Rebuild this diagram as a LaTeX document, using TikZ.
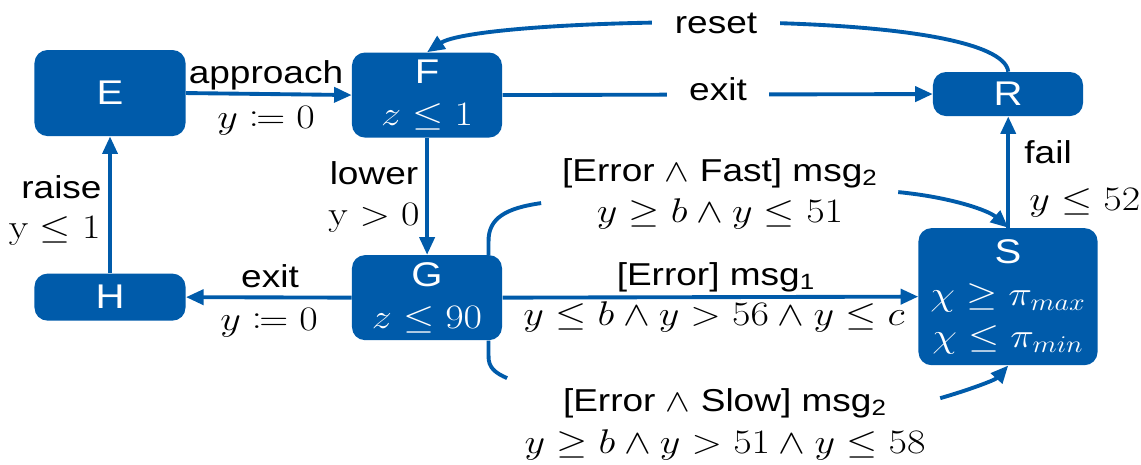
\RequirePackage{fix-cm}
\documentclass[tikz,border=0pt]{standalone}
\usepackage[no-math]{fontspec}
\setmainfont{Liberation Sans}
\usepackage{mathtools}
\usetikzlibrary{arrows.meta,calc}
\definecolor{bl}{RGB}{0,91,170}
\begin{document}
\begin{tikzpicture}[x=0.017094cm, y=-0.02cm, xscale=1.17,
  every node/.append style={transform shape},
  conn/.style={draw=bl, line width=2.2pt},
  arr/.style={conn, -{Triangle[length=10pt,width=8.5pt]}},
  st/.style={fill=bl, text=white, rounded corners=0.26cm, inner sep=0pt, align=center, font=\fontsize{19.5}{24}\selectfont},
  lbl/.style={inner sep=0pt, font=\fontsize{18}{22}\selectfont, anchor=base},
  lblm/.style={lbl, font=\fontsize{19.5}{22}\selectfont},
  gap/.style={lbl, fill=white, inner xsep=11pt, inner ysep=4pt}]
\useasboundingbox (0,0) rectangle (1141,464);
% states
\node[st, minimum width=2.581cm, minimum height=1.72cm] (E) at (110,93) {E};
\node[st, minimum width=2.564cm, minimum height=1.70cm] (F) at (427,95) {F\\$z\le 1$};
\node[st, minimum width=2.564cm, minimum height=0.88cm] (R) at (1008,94) {R};
\node[st, minimum width=2.581cm, minimum height=0.94cm] (H) at (110,297) {H};
\node[st, minimum width=2.564cm, minimum height=1.70cm] (G) at (427,297.5) {G\\$z\le 90$};
\node[st, minimum width=3.060cm, minimum height=2.74cm] (S) at (1008,296.5) {S\\$\chi\ge\pi_{max}$\\$\chi\le\pi_{min}$};
% connectors
\draw[arr] (E.east) -- (F.west);
\draw[arr] (F.east) -- (R.west);
\draw[arr] (R.north) .. controls (1005,42) and (900,23) .. (716,22) .. controls (560,22) and (457,32) .. (F.north);
\draw[arr] (F.south) -- (G.north);
\draw[arr] (H.north) -- (E.south);
\draw[arr] (G.west) -- (H.east);
\draw[arr] (G.east) -- (S.west);
\draw[arr] (S.north) -- (R.south);
\coordinate (fa) at (541,203);
\coordinate (fb) at (898,192);
\coordinate (sa) at (507,378);
\coordinate (sb) at (940,398);
\draw[conn] ($(G.north east)+(-14,0)$) -- ++(0,-13) .. controls (488,218) and (506,208) .. (fa);
\draw[arr] (fb) .. controls (950,197) and (988,210) .. (S.north);
\draw[conn] ($(G.south east)+(-14,0)$) -- ++(0,15) .. controls (488,368) and (496,373) .. (sa);
\draw[arr] (sb) .. controls (968,390) and (995,380) .. (S.south);
% labels
\node[lbl] (lap) at (266,83) {approach};
\node[lblm] (lay) at (266,128) {$y\coloneqq 0$};
\node[gap] (lex) at (718,100) {exit};
\node[gap] (lrs) at (716,33) {reset};
\node[lbl] (llo) at (374,184) {lower};
\node[lblm] (lly) at (374,225) {$\mathrm{y}>0$};
\node[lbl, anchor=base east] (lra) at (102,198) {raise};
\node[lblm, anchor=base east] (lry) at (101,238) {$\mathrm{y}\le 1$};
\node[lbl] (lex2) at (270,287) {exit};
\node[lblm] (ley2) at (269,330) {$y\coloneqq 0$};
\node[lbl] (lm1) at (716,285) {[Error] msg\textsubscript{1}};
\node[lblm] (lm1g) at (714,325) {$y\le b\wedge y>56\wedge y\le c$};
\node[lbl] (lfa) at (720,181) {[Error $\wedge$ Fast] msg\textsubscript{2}};
\node[lblm] (lfag) at (720,222) {$y\ge b\wedge y\le 51$};
\node[lbl] (lsl) at (725,411) {[Error $\wedge$ Slow] msg\textsubscript{2}};
\node[lblm] (lslg) at (725,453) {$y\ge b\wedge y>51\wedge y\le 58$};
\node[lbl, anchor=base west] (lfl) at (1024,163) {fail};
\node[lblm, anchor=base west] (lfy) at (1029,210) {$y\le 52$};
\end{tikzpicture}
\end{document}
